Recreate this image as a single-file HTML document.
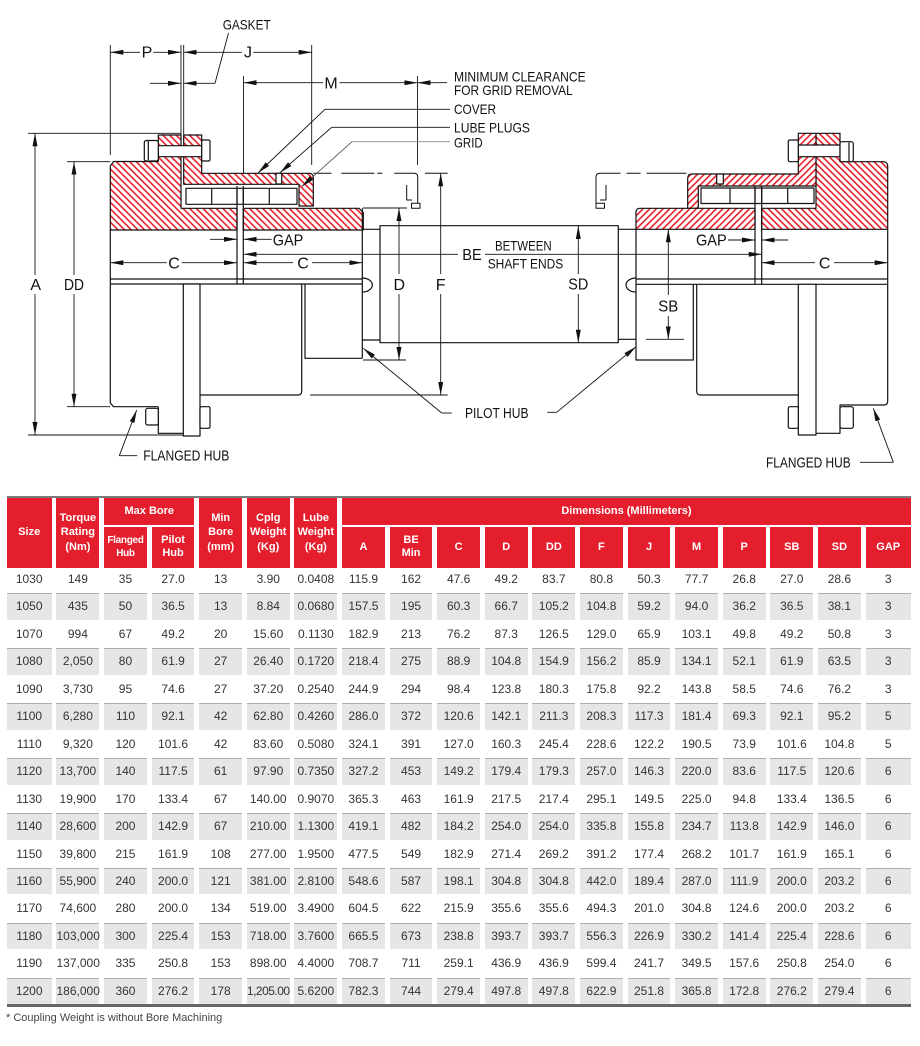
<!DOCTYPE html>
<html><head><meta charset="utf-8">
<style>
html,body{margin:0;padding:0;background:#fff;}
body{width:920px;height:1046px;position:relative;overflow:hidden;font-family:"Liberation Sans",Arial,sans-serif;}
svg text{font-family:"Liberation Sans",Arial,sans-serif;fill:#111;}
.t16{font-size:16px;}
.t14{font-size:14px;}
.t15{font-size:15px;}
.topline{position:absolute;left:6.7px;top:495.8px;width:904.3px;height:2px;background:#7b7b7b;}
.hdr{position:absolute;left:6.7px;top:498px;width:904.3px;height:69.7px;display:grid;grid-template-columns:45px repeat(17,42.8px) 45.3px;grid-template-rows:27.3px 40.4px;column-gap:4.8px;row-gap:2px;}
.hdr div{background:#e41e2d;color:#fff;font-weight:bold;font-size:11px;line-height:14.7px;display:flex;align-items:center;justify-content:center;text-align:center;}
.hdr div.s2{line-height:13px;}
.row{position:absolute;left:6.7px;width:904.3px;height:27.45px;display:grid;grid-template-columns:45px repeat(17,42.8px) 45.3px;column-gap:4.8px;}
.row div{height:25.5px;border-top:1.5px solid transparent;line-height:25.5px;text-align:center;font-size:12px;color:#333;white-space:nowrap;}
.row.g div{background:#e6e6e6;border-top-color:#aeaeae;}
.botline{position:absolute;left:6.7px;top:1004.2px;width:904.3px;height:2.5px;background:#666;}
.foot{position:absolute;left:6px;top:1011px;font-size:11px;color:#444;line-height:14px;}
</style></head>
<body>
<svg width="920" height="495" viewBox="0 0 920 495" style="position:absolute;left:0;top:0">
<defs>
<pattern id="hl" width="4.7" height="4.7" patternUnits="userSpaceOnUse" patternTransform="rotate(-45)"><rect width="4.7" height="4.7" fill="#fff"/><rect x="0" y="0" width="1.6" height="4.7" fill="#e8202a"/></pattern>
<pattern id="hr" width="4.7" height="4.7" patternUnits="userSpaceOnUse" patternTransform="rotate(45)"><rect width="4.7" height="4.7" fill="#fff"/><rect x="0" y="0" width="1.6" height="4.7" fill="#e8202a"/></pattern>
<marker id="ar" viewBox="0 0 13 5" refX="13" refY="2.5" markerWidth="13" markerHeight="5" markerUnits="userSpaceOnUse" orient="auto"><path d="M0,0L13,2.5L0,5z" fill="#111"/></marker>
</defs>

<!-- shapes -->
<g fill="none" stroke="#111" stroke-width="1.2" stroke-linejoin="round">
<!-- left top section -->
<path d="M110.3,166L113.5,161.5L158.3,161.5L158.3,135L181,135L181,208.3L237,208.3L237,230L110.3,230Z" fill="url(#hl)"/>
<path d="M183.7,135L201.7,135L201.7,173.3L309,173.3Q313.3,173.3 313.3,177.5L313.3,206L299,206L299,184.3L183.7,184.3Z" fill="url(#hl)"/>
<path d="M243.3,208.3L359,208.3L363.3,212.5L363.3,230L243.3,230Z" fill="url(#hl)"/>
<path d="M186,188.3h111v16h-111z M211.7,188.3v16 M237,188.3v16 M243.3,188.3v16 M269.3,188.3v16" fill="#fff"/>
<rect x="158.3" y="145.7" width="43.4" height="11" fill="#fff"/>
<rect x="201.7" y="140" width="8.3" height="21" rx="1.5" fill="#fff"/>
<rect x="144.3" y="140.5" width="14" height="20.5" rx="2" fill="#fff"/>
<path d="M148.3,141v19"/>
<rect x="276" y="173.3" width="5.7" height="10.7" fill="#fff"/>
<path d="M237,186v98M243.3,186v98"/>
<path d="M110.3,279H362.3M110.3,284H362.3"/>
<path d="M362.3,278A10,7 0 0 1 362.3,292"/>
<!-- left bottom -->
<path d="M110.3,230V403L113.5,406.7H158.3"/>
<path d="M158.3,406.7V433.3H183.3"/>
<rect x="183.3" y="284" width="16.7" height="152" fill="#fff"/>
<path d="M200,395H298Q301.7,395 301.7,391V284"/>
<path d="M305,284V358.3H362.3"/>
<path d="M362.3,208.3V358.3"/>
<rect x="145.7" y="408.3" width="12.6" height="16.7" rx="2" fill="#fff"/>
<rect x="200" y="406.7" width="10" height="21.6" rx="1.5" fill="#fff"/>
<!-- shaft -->
<path d="M362.3,229.3H380M362.3,340H380M618.3,229.3H636M618.3,339.3H636"/>
<rect x="380" y="225.7" width="238.3" height="117"/>
<!-- right top section -->
<path d="M816,133.3H840V161.7H883Q887.7,161.7 887.7,166.5V229.3H761.7V208.3H816Z" fill="url(#hl)"/>
<path d="M687.7,178.5Q687.7,174 692,174H798.3V133.3H816V186H698.3V208.3H687.7Z" fill="url(#hr)"/>
<path d="M636,212.5Q636,208.3 640,208.3H755V229.3H636Z" fill="url(#hr)"/>
<path d="M701,188H814V203.5H701Z M730,188v15.5 M755,188v15.5 M761.7,188v15.5 M787.7,188v15.5" fill="#fff"/>
<rect x="798.3" y="145" width="41.7" height="11.7" fill="#fff"/>
<rect x="788.3" y="140" width="10" height="21.7" rx="1.5" fill="#fff"/>
<rect x="840" y="141.7" width="13.3" height="20" rx="2" fill="#fff"/>
<path d="M849,142.5v18.5"/>
<rect x="716.7" y="174" width="6.6" height="10" fill="#fff"/>
<path d="M755,186v98.3M761.7,186v98.3"/>
<path d="M636,279H887.7M636,284.3H887.7"/>
<path d="M636,278A10,7 0 0 0 636,292"/>
<!-- right bottom -->
<path d="M636,229.3V360H693.3V284.3"/>
<path d="M696.7,284.3V391Q696.7,395 700.5,395H798.3"/>
<rect x="798.3" y="284.3" width="17.7" height="150.7" fill="#fff"/>
<path d="M816,433.3H840V405H884Q887.7,405 887.7,401V229.3"/>
<rect x="788.3" y="406.7" width="10" height="21.6" rx="1.5" fill="#fff"/>
<rect x="840" y="406.7" width="13.3" height="21.6" rx="2" fill="#fff"/>
<!-- phantom outlines -->
<path d="M313.3,173.3H414Q417.7,173.3 417.7,177V203" stroke-dasharray="18 10 33 3 5 12 300" stroke-width="1"/>
<path d="M406.7,185V200H412M411.5,203.3h8.5v5h-8.5z" stroke-width="1"/>
<path d="M425,173.3H447.7" stroke-width="1"/>
<path d="M686.5,173.3H600Q596,173.3 596,177V203" stroke-dasharray="40 6 14 6 300" stroke-width="1"/>
<path d="M606,185V200H600M596,203.3h8.5v5h-8.5z" stroke-width="1"/>
</g>

<!-- dimension & extension lines -->
<g stroke="#111" stroke-width="0.9" fill="none">
<path d="M110.3,45V155M181,45V135M183.7,45V135M311.7,45V165M243.5,76V173.3M417.5,76V165"/>
<path d="M28,133.3H181M28,435H183M67,161.7H110.3M67,406.7H110.3M363,208H407M363,360H406M310,395H447.7M646,339.3H684"/>
<line x1="140" y1="52.3" x2="110.3" y2="52.3" marker-end="url(#ar)"/>
<line x1="153.3" y1="52.3" x2="181" y2="52.3" marker-end="url(#ar)"/>
<line x1="241.7" y1="52.3" x2="183.7" y2="52.3" marker-end="url(#ar)"/>
<line x1="253.3" y1="52.3" x2="311.7" y2="52.3" marker-end="url(#ar)"/>
<line x1="150" y1="83.3" x2="181" y2="83.3" marker-end="url(#ar)"/>
<line x1="215" y1="83.3" x2="183.7" y2="83.3" marker-end="url(#ar)"/>
<line x1="215" y1="83.3" x2="228.5" y2="33"/>
<line x1="323" y1="82.7" x2="243.5" y2="82.7" marker-end="url(#ar)"/>
<line x1="339.5" y1="82.7" x2="417.5" y2="82.7" marker-end="url(#ar)"/>
<line x1="447" y1="82.7" x2="417.5" y2="82.7" marker-end="url(#ar)"/>
<path d="M450,109.3H325"/><line x1="325" y1="109.3" x2="258" y2="173" marker-end="url(#ar)"/>
<path d="M450,127.3H331.7"/><line x1="331.7" y1="127.3" x2="280" y2="172.7" marker-end="url(#ar)"/>
<path d="M450,141.7H352" stroke="#8a8a8a"/><line x1="352" y1="141.7" x2="301.7" y2="186.7" stroke="#555" marker-end="url(#ar)"/>
<line x1="35" y1="275" x2="35" y2="133.3" marker-end="url(#ar)"/>
<line x1="35" y1="294" x2="35" y2="435" marker-end="url(#ar)"/>
<line x1="74" y1="275" x2="74" y2="161.7" marker-end="url(#ar)"/>
<line x1="74" y1="294" x2="74" y2="406.7" marker-end="url(#ar)"/>
<line x1="166.7" y1="262.7" x2="110.3" y2="262.7" marker-end="url(#ar)"/>
<line x1="181.7" y1="262.7" x2="237" y2="262.7" marker-end="url(#ar)"/>
<line x1="293" y1="262.7" x2="243.5" y2="262.7" marker-end="url(#ar)"/>
<line x1="312" y1="262.7" x2="362.3" y2="262.7" marker-end="url(#ar)"/>
<line x1="210" y1="239.3" x2="237" y2="239.3" marker-end="url(#ar)"/>
<line x1="271.7" y1="239.3" x2="243.5" y2="239.3" marker-end="url(#ar)"/>
<line x1="458" y1="254.3" x2="243.5" y2="254.3" marker-end="url(#ar)"/>
<line x1="485" y1="254.3" x2="761.7" y2="254.3" marker-end="url(#ar)"/>
<line x1="399" y1="274" x2="399" y2="208" marker-end="url(#ar)"/>
<line x1="399" y1="294" x2="399" y2="360" marker-end="url(#ar)"/>
<line x1="440.7" y1="274" x2="440.7" y2="173.3" marker-end="url(#ar)"/>
<line x1="440.7" y1="294" x2="440.7" y2="395" marker-end="url(#ar)"/>
<line x1="578.3" y1="274" x2="578.3" y2="226" marker-end="url(#ar)"/>
<line x1="578.3" y1="294" x2="578.3" y2="342.7" marker-end="url(#ar)"/>
<line x1="668.3" y1="295" x2="668.3" y2="229.3" marker-end="url(#ar)"/>
<line x1="668.3" y1="316" x2="668.3" y2="339.3" marker-end="url(#ar)"/>
<line x1="728" y1="240" x2="755" y2="240" marker-end="url(#ar)"/>
<line x1="788.3" y1="240" x2="761.7" y2="240" marker-end="url(#ar)"/>
<line x1="815" y1="262.7" x2="761.7" y2="262.7" marker-end="url(#ar)"/>
<line x1="834" y1="262.7" x2="887.7" y2="262.7" marker-end="url(#ar)"/>
<path d="M451.7,413H441.7"/><line x1="441.7" y1="413" x2="363.3" y2="348.3" marker-end="url(#ar)"/>
<path d="M547.3,412.3H556.7"/><line x1="556.7" y1="412.3" x2="636" y2="346.7" marker-end="url(#ar)"/>
<path d="M137.3,455.7H119.3"/><line x1="119.3" y1="455.7" x2="136.7" y2="410" marker-end="url(#ar)"/>
<path d="M860,462.3H893.3"/><line x1="893.3" y1="462.3" x2="873.3" y2="408.3" marker-end="url(#ar)"/>
</g>

<!-- labels -->
<text x="222.7" y="29.5" class="t14" textLength="48" lengthAdjust="spacingAndGlyphs">GASKET</text>
<text x="147" y="57.5" class="t16" text-anchor="middle">P</text>
<text x="248" y="57.5" class="t16" text-anchor="middle">J</text>
<text x="331" y="88.3" class="t16" text-anchor="middle">M</text>
<text x="454" y="81.7" class="t14" textLength="131.7" lengthAdjust="spacingAndGlyphs">MINIMUM CLEARANCE</text>
<text x="454" y="95" class="t14" textLength="118.7" lengthAdjust="spacingAndGlyphs">FOR GRID REMOVAL</text>
<text x="454" y="114" class="t14" textLength="42" lengthAdjust="spacingAndGlyphs">COVER</text>
<text x="454" y="132.3" class="t14" textLength="76" lengthAdjust="spacingAndGlyphs">LUBE PLUGS</text>
<text x="454" y="147.3" class="t14" textLength="28.7" lengthAdjust="spacingAndGlyphs">GRID</text>
<text x="35.7" y="290" class="t16" text-anchor="middle">A</text>
<text x="64" y="290" class="t16" textLength="20" lengthAdjust="spacingAndGlyphs">DD</text>
<text x="174" y="268.3" class="t16" text-anchor="middle">C</text>
<text x="303" y="268.3" class="t16" text-anchor="middle">C</text>
<text x="272.7" y="245.7" class="t16" textLength="30.6" lengthAdjust="spacingAndGlyphs">GAP</text>
<text x="462.3" y="260" class="t16" textLength="19.4" lengthAdjust="spacingAndGlyphs">BE</text>
<text x="495" y="250.7" style="font-size:13.5px" textLength="56.7" lengthAdjust="spacingAndGlyphs">BETWEEN</text>
<text x="487.7" y="268.3" style="font-size:13.5px" textLength="75.6" lengthAdjust="spacingAndGlyphs">SHAFT ENDS</text>
<text x="399.3" y="290" class="t16" text-anchor="middle">D</text>
<text x="440.7" y="290" class="t16" text-anchor="middle">F</text>
<text x="568.3" y="289.3" class="t16" textLength="20" lengthAdjust="spacingAndGlyphs">SD</text>
<text x="658.3" y="311.7" class="t16" textLength="20" lengthAdjust="spacingAndGlyphs">SB</text>
<text x="696" y="245.7" class="t16" textLength="30.7" lengthAdjust="spacingAndGlyphs">GAP</text>
<text x="824.7" y="268.3" class="t16" text-anchor="middle">C</text>
<text x="465" y="418" class="t15" textLength="63.5" lengthAdjust="spacingAndGlyphs">PILOT HUB</text>
<text x="143.3" y="460.7" class="t15" textLength="86" lengthAdjust="spacingAndGlyphs">FLANGED HUB</text>
<text x="766" y="467.3" class="t15" textLength="84.7" lengthAdjust="spacingAndGlyphs">FLANGED HUB</text>
</svg>

<div class="topline"></div>
<div class="hdr">
<div style="grid-column:1;grid-row:1/3">Size</div>
<div style="grid-column:2;grid-row:1/3">Torque<br>Rating<br>(Nm)</div>
<div style="grid-column:3/5;grid-row:1">Max Bore</div>
<div class="s2" style="grid-column:3;grid-row:2;font-size:10px;letter-spacing:-0.3px">Flanged<br>Hub</div>
<div class="s2" style="grid-column:4;grid-row:2">Pilot<br>Hub</div>
<div style="grid-column:5;grid-row:1/3">Min<br>Bore<br>(mm)</div>
<div style="grid-column:6;grid-row:1/3">Cplg<br>Weight<br>(Kg)</div>
<div style="grid-column:7;grid-row:1/3">Lube<br>Weight<br>(Kg)</div>
<div style="grid-column:8/20;grid-row:1">Dimensions (Millimeters)</div>
<div style="grid-column:8;grid-row:2">A</div>
<div class="s2" style="grid-column:9;grid-row:2">BE<br>Min</div>
<div style="grid-column:10;grid-row:2">C</div>
<div style="grid-column:11;grid-row:2">D</div>
<div style="grid-column:12;grid-row:2">DD</div>
<div style="grid-column:13;grid-row:2">F</div>
<div style="grid-column:14;grid-row:2">J</div>
<div style="grid-column:15;grid-row:2">M</div>
<div style="grid-column:16;grid-row:2">P</div>
<div style="grid-column:17;grid-row:2">SB</div>
<div style="grid-column:18;grid-row:2">SD</div>
<div style="grid-column:19;grid-row:2">GAP</div>
</div>

<div class="row" style="top:566px"><div>1030</div><div>149</div><div>35</div><div>27.0</div><div>13</div><div>3.90</div><div>0.0408</div><div>115.9</div><div>162</div><div>47.6</div><div>49.2</div><div>83.7</div><div>80.8</div><div>50.3</div><div>77.7</div><div>26.8</div><div>27.0</div><div>28.6</div><div>3</div></div>
<div class="row g" style="top:593.45px"><div>1050</div><div>435</div><div>50</div><div>36.5</div><div>13</div><div>8.84</div><div>0.0680</div><div>157.5</div><div>195</div><div>60.3</div><div>66.7</div><div>105.2</div><div>104.8</div><div>59.2</div><div>94.0</div><div>36.2</div><div>36.5</div><div>38.1</div><div>3</div></div>
<div class="row" style="top:620.9px"><div>1070</div><div>994</div><div>67</div><div>49.2</div><div>20</div><div>15.60</div><div>0.1130</div><div>182.9</div><div>213</div><div>76.2</div><div>87.3</div><div>126.5</div><div>129.0</div><div>65.9</div><div>103.1</div><div>49.8</div><div>49.2</div><div>50.8</div><div>3</div></div>
<div class="row g" style="top:648.35px"><div>1080</div><div>2,050</div><div>80</div><div>61.9</div><div>27</div><div>26.40</div><div>0.1720</div><div>218.4</div><div>275</div><div>88.9</div><div>104.8</div><div>154.9</div><div>156.2</div><div>85.9</div><div>134.1</div><div>52.1</div><div>61.9</div><div>63.5</div><div>3</div></div>
<div class="row" style="top:675.8px"><div>1090</div><div>3,730</div><div>95</div><div>74.6</div><div>27</div><div>37.20</div><div>0.2540</div><div>244.9</div><div>294</div><div>98.4</div><div>123.8</div><div>180.3</div><div>175.8</div><div>92.2</div><div>143.8</div><div>58.5</div><div>74.6</div><div>76.2</div><div>3</div></div>
<div class="row g" style="top:703.25px"><div>1100</div><div>6,280</div><div>110</div><div>92.1</div><div>42</div><div>62.80</div><div>0.4260</div><div>286.0</div><div>372</div><div>120.6</div><div>142.1</div><div>211.3</div><div>208.3</div><div>117.3</div><div>181.4</div><div>69.3</div><div>92.1</div><div>95.2</div><div>5</div></div>
<div class="row" style="top:730.7px"><div>1110</div><div>9,320</div><div>120</div><div>101.6</div><div>42</div><div>83.60</div><div>0.5080</div><div>324.1</div><div>391</div><div>127.0</div><div>160.3</div><div>245.4</div><div>228.6</div><div>122.2</div><div>190.5</div><div>73.9</div><div>101.6</div><div>104.8</div><div>5</div></div>
<div class="row g" style="top:758.15px"><div>1120</div><div>13,700</div><div>140</div><div>117.5</div><div>61</div><div>97.90</div><div>0.7350</div><div>327.2</div><div>453</div><div>149.2</div><div>179.4</div><div>179.3</div><div>257.0</div><div>146.3</div><div>220.0</div><div>83.6</div><div>117.5</div><div>120.6</div><div>6</div></div>
<div class="row" style="top:785.6px"><div>1130</div><div>19,900</div><div>170</div><div>133.4</div><div>67</div><div>140.00</div><div>0.9070</div><div>365.3</div><div>463</div><div>161.9</div><div>217.5</div><div>217.4</div><div>295.1</div><div>149.5</div><div>225.0</div><div>94.8</div><div>133.4</div><div>136.5</div><div>6</div></div>
<div class="row g" style="top:813.05px"><div>1140</div><div>28,600</div><div>200</div><div>142.9</div><div>67</div><div>210.00</div><div>1.1300</div><div>419.1</div><div>482</div><div>184.2</div><div>254.0</div><div>254.0</div><div>335.8</div><div>155.8</div><div>234.7</div><div>113.8</div><div>142.9</div><div>146.0</div><div>6</div></div>
<div class="row" style="top:840.5px"><div>1150</div><div>39,800</div><div>215</div><div>161.9</div><div>108</div><div>277.00</div><div>1.9500</div><div>477.5</div><div>549</div><div>182.9</div><div>271.4</div><div>269.2</div><div>391.2</div><div>177.4</div><div>268.2</div><div>101.7</div><div>161.9</div><div>165.1</div><div>6</div></div>
<div class="row g" style="top:867.95px"><div>1160</div><div>55,900</div><div>240</div><div>200.0</div><div>121</div><div>381.00</div><div>2.8100</div><div>548.6</div><div>587</div><div>198.1</div><div>304.8</div><div>304.8</div><div>442.0</div><div>189.4</div><div>287.0</div><div>111.9</div><div>200.0</div><div>203.2</div><div>6</div></div>
<div class="row" style="top:895.4px"><div>1170</div><div>74,600</div><div>280</div><div>200.0</div><div>134</div><div>519.00</div><div>3.4900</div><div>604.5</div><div>622</div><div>215.9</div><div>355.6</div><div>355.6</div><div>494.3</div><div>201.0</div><div>304.8</div><div>124.6</div><div>200.0</div><div>203.2</div><div>6</div></div>
<div class="row g" style="top:922.85px"><div>1180</div><div>103,000</div><div>300</div><div>225.4</div><div>153</div><div>718.00</div><div>3.7600</div><div>665.5</div><div>673</div><div>238.8</div><div>393.7</div><div>393.7</div><div>556.3</div><div>226.9</div><div>330.2</div><div>141.4</div><div>225.4</div><div>228.6</div><div>6</div></div>
<div class="row" style="top:950.3px"><div>1190</div><div>137,000</div><div>335</div><div>250.8</div><div>153</div><div>898.00</div><div>4.4000</div><div>708.7</div><div>711</div><div>259.1</div><div>436.9</div><div>436.9</div><div>599.4</div><div>241.7</div><div>349.5</div><div>157.6</div><div>250.8</div><div>254.0</div><div>6</div></div>
<div class="row g" style="top:977.75px"><div>1200</div><div>186,000</div><div>360</div><div>276.2</div><div>178</div><div style="letter-spacing:-0.5px">1,205.00</div><div>5.6200</div><div>782.3</div><div>744</div><div>279.4</div><div>497.8</div><div>497.8</div><div>622.9</div><div>251.8</div><div>365.8</div><div>172.8</div><div>276.2</div><div>279.4</div><div>6</div></div>
<div class="botline"></div>
<div class="foot">* Coupling Weight is without Bore Machining</div>
</body></html>
